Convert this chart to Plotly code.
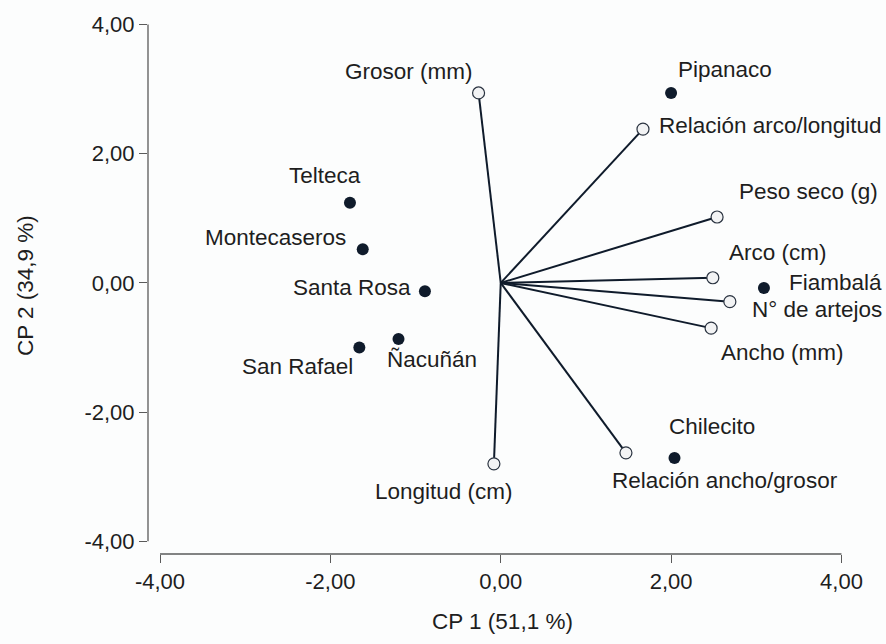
import plotly.graph_objects as go

# --- data ---
site_names = ["Pipanaco", "Telteca", "Montecaseros", "Santa Rosa", "Ñacuñán",
              "San Rafael", "Fiambalá", "Chilecito"]
site_x = [2.00, -1.77, -1.62, -0.89, -1.20, -1.66, 3.09, 2.04]
site_y = [2.94, 1.24, 0.52, -0.13, -0.87, -1.00, -0.08, -2.71]

var_names = ["Grosor (mm)", "Relación arco/longitud", "Peso seco (g)", "Arco (cm)",
             "N° de artejos", "Ancho (mm)", "Longitud (cm)", "Relación ancho/grosor"]
var_x = [-0.26, 1.67, 2.54, 2.49, 2.69, 2.47, -0.08, 1.47]
var_y = [2.94, 2.38, 1.02, 0.08, -0.29, -0.70, -2.80, -2.63]

tick_vals = [-4, -2, 0, 2, 4]
tick_text = ["-4,00", "-2,00", "0,00", "2,00", "4,00"]

x_title = "CP 1 (51,1 %)"
y_title = "CP 2 (34,9 %)"

# label placement (anchor, pixel offsets)
site_lab = [("left", 5, 23), ("right", 13, 27), ("right", -15, 12), ("right", -12, 4),
            ("left", -14, -20), ("right", -4, -19), ("left", 23, 6), ("left", -7, 31)]
var_lab = [("right", -4, 21), ("left", 14, 4), ("left", 20, 26), ("left", 14, 25),
           ("left", 20, -8), ("left", 8, -24), ("center", -50, -28), ("left", -16, -28)]

FONT = "Arial, 'Liberation Sans', sans-serif"
TXT = "#1e1e1e"
DARK = "#0f1b2b"
AX = "#5a5a5a"
BG = "#fcfdfd"

fig = go.Figure()

# vectors from origin
lx, ly = [], []
for vx, vy in zip(var_x, var_y):
    lx += [0, vx, None]
    ly += [0, vy, None]
fig.add_trace(go.Scatter(x=lx, y=ly, mode="lines",
                         line=dict(color=DARK, width=2), hoverinfo="skip",
                         showlegend=False))
fig.add_trace(go.Scatter(x=var_x, y=var_y, mode="markers",
                         marker=dict(size=12, color="#f2f3f4",
                                     line=dict(color="#2a3340", width=1.2)),
                         text=var_names, showlegend=False, cliponaxis=False))
fig.add_trace(go.Scatter(x=site_x, y=site_y, mode="markers",
                         marker=dict(size=12, color=DARK),
                         text=site_names, showlegend=False, cliponaxis=False))

anns = []
for names, xs, ys, labs in [(site_names, site_x, site_y, site_lab),
                            (var_names, var_x, var_y, var_lab)]:
    for n, x, y, (anc, dx, dy) in zip(names, xs, ys, labs):
        anns.append(dict(x=x, y=y, xref="x", yref="y", text=n, showarrow=False,
                         xanchor=anc, yanchor="middle", xshift=dx, yshift=dy,
                         font=dict(family=FONT, size=22.5, color=TXT)))

XR = [-4.141, 4.30]
YR = [-4.196, 4.10]
W, H = 886, 644
L = 148
R = W - L - (XR[1] - XR[0]) * 85.125
T = 13.7
B = H - T - (YR[1] - YR[0]) * 65.125
pw = W - L - R
ph = H - T - B

anns.append(dict(x=(502 - L) / pw, y=1 - (622 - T) / ph, xref="paper", yref="paper",
                 text=x_title, showarrow=False, xanchor="center", yanchor="middle",
                 font=dict(family=FONT, size=22.5, color=TXT)))
anns.append(dict(x=(25 - L) / pw, y=1 - (283 - T) / ph, xref="paper", yref="paper",
                 text=y_title, showarrow=False, xanchor="center", yanchor="middle",
                 textangle=-90, font=dict(family=FONT, size=22.5, color=TXT)))

shapes = [
    dict(type="line", xref="x", yref="paper", x0=-4, x1=4, y0=0, y1=0,
         line=dict(color=AX, width=1.3)),
    dict(type="line", xref="paper", yref="y", x0=0, x1=0, y0=-4, y1=4,
         line=dict(color=AX, width=1.3)),
]

fig.update_layout(
    width=W, height=H,
    margin=dict(l=L, r=R, t=T, b=B, pad=0),
    paper_bgcolor=BG, plot_bgcolor=BG,
    annotations=anns, shapes=shapes,
    font=dict(family=FONT, size=22, color=TXT),
    xaxis=dict(range=XR, showgrid=False, zeroline=False, showline=False,
               ticks="outside", ticklen=8, tickwidth=1.3, tickcolor=AX,
               tickvals=tick_vals, ticktext=tick_text,
               tickfont=dict(family=FONT, size=22, color=TXT)),
    yaxis=dict(range=YR, showgrid=False, zeroline=False, showline=False,
               ticks="outside", ticklen=8, tickwidth=1.3, tickcolor=AX,
               tickvals=tick_vals, ticktext=tick_text,
               tickfont=dict(family=FONT, size=22, color=TXT)),
)

fig.write_html(
    "out.html",
    config={"displayModeBar": False},
    post_script="document.body.style.margin='0';document.body.style.padding='0';"
                "document.body.style.background='" + BG + "';"
                "document.body.style.overflow='hidden';",
)
